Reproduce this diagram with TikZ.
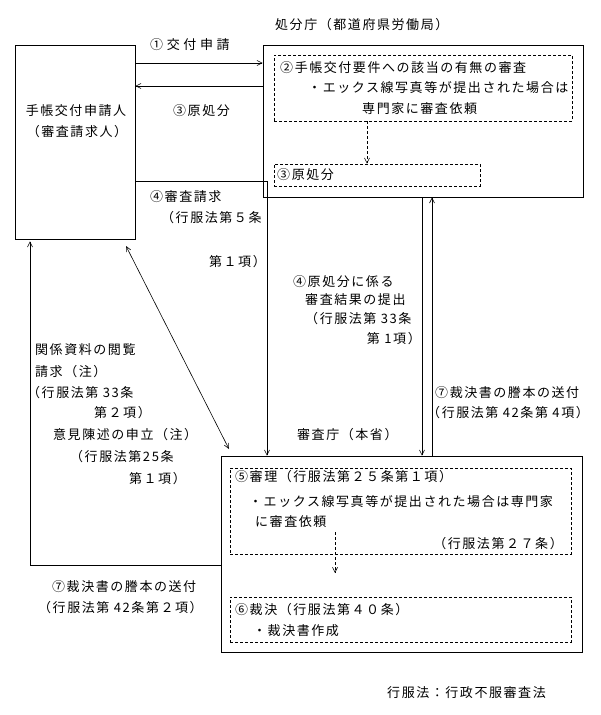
\documentclass[tikz,border=0pt]{standalone}
\usepackage{fontspec}
\setmainfont{Noto Sans CJK JP}[LetterSpace=12]
\usetikzlibrary{arrows.meta,calc}
\begin{document}
\begin{tikzpicture}[x=1pt,y=-1pt,
  font=\fontsize{13}{15}\selectfont,
  box/.style={draw, line width=0.8pt, inner sep=0pt},
  dbox/.style={draw, line width=0.7pt, dash pattern=on 3pt off 2pt, inner sep=0pt},
  txt/.style={inner sep=0pt, anchor=west},
  txtr/.style={inner sep=0pt, anchor=east},
  txtc/.style={inner sep=0pt, anchor=center},
  wide/.style={font=\fontsize{13}{15}\selectfont\addfontfeature{LetterSpace=28}},
  conn/.style={line width=0.6pt},
  arr/.style={conn, -{Straight Barb[length=5pt,width=5pt]}},
  darr/.style={conn, {Straight Barb[length=5pt,width=5pt]}-{Straight Barb[length=5pt,width=5pt]}},
  dashconn/.style={conn, dash pattern=on 3pt off 2pt, -{Straight Barb[length=5pt,width=5pt]}}
]
\useasboundingbox (0,0) rectangle (600,715);

% boxes
\node[box, minimum width=120pt, minimum height=194pt] (app) at (75,142) {};
\node[box, minimum width=320pt, minimum height=152pt] (pref) at (423,121) {};
\node[dbox, minimum width=298pt, minimum height=66pt] (d2) at (423,88) {};
\node[dbox, minimum width=206pt, minimum height=22pt] (d3) at (377,175) {};
\node[box, minimum width=361pt, minimum height=196pt] (rev) at (401.5,554) {};
\node[dbox, minimum width=341pt, minimum height=86pt] (d5) at (400.5,511) {};
\node[dbox, minimum width=341pt, minimum height=45pt] (d6) at (400.5,619.5) {};

% texts in applicant box
\node[txtc] (tapp1) at (76,111) {手帳交付申請人};
\node[txtc] (tapp2) at (77,132) {（審査請求人）};

% prefecture agency
\node[txt] (tpref) at (275,25) {処分庁（都道府県労働局）};
\node[txt] (t2a) at (280,68) {②手帳交付要件への該当の有無の審査};
\node[txt] (t2b) at (308,88) {・エックス線写真等が提出された場合は};
\node[txt] (t2c) at (362,109) {専門家に審査依頼};
\node[txt] (t3) at (277,175) {③原処分};

% top connectors labels
\node[txt, wide] (l1) at (150,45) {①交付申請};
\node[txt] (l3) at (173,111) {③原処分};
\node[txt] (l4a) at (150,197) {④審査請求};
\node[txt] (l4b) at (161,218) {（行服法第５条};
\node[txtr] (l4c) at (266,262) {第１項）};

% middle labels
\node[txt] (m1) at (293,282) {④原処分に係る};
\node[txt] (m2) at (305,300) {審査結果の提出};
\node[txt] (m3) at (305,319) {（行服法第 33条};
\node[txtr] (m4) at (421,339) {第 1項）};
\node[txt] (m5) at (435,393) {⑦裁決書の謄本の送付};
\node[txt] (m6) at (427,413) {（行服法第 42条第 4項）};
\node[txt] (m7) at (297,435) {審査庁（本省）};

% left labels
\node[txt] (k1) at (35,350) {関係資料の閲覧};
\node[txt] (k2) at (35,372) {請求（注）};
\node[txt] (k3) at (27,393) {（行服法第 33条};
\node[txtr] (k4) at (151,413) {第２項）};
\node[txt] (k5) at (53,435) {意見陳述の申立（注）};
\node[txt] (k6) at (70,457) {（行服法第25条};
\node[txtr] (k7) at (186,479) {第１項）};
\node[txt] (k8) at (52,587) {⑦裁決書の謄本の送付};
\node[txt] (k9) at (38,608) {（行服法第 42条第２項）};

% review agency
\node[txt] (r1) at (235,477) {⑤審理（行服法第２５条第１項）};
\node[txt] (r2) at (249,502) {・エックス線写真等が提出された場合は専門家};
\node[txt] (r3) at (255,522) {に審査依頼};
\node[txtr] (r4) at (563,544) {（行服法第２７条）};
\node[txt] (r5) at (235,610) {⑥裁決（行服法第４０条）};
\node[txt] (r6) at (253,631) {・裁決書作成};

% footnote
\node[txt] (fn) at (387,693) {行服法：行政不服審査法};

% connectors
\draw[arr] (app.east |- 0,63) -- (pref.west |- 0,63);
\draw[arr] (pref.west |- 0,86) -- (app.east |- 0,86);
\draw[dashconn] (d2.south -| 367,0) -- (d3.north -| 367,0);
\draw[arr] (app.east |- 0,181) -| (rev.north -| 267,0);
\draw[arr] (pref.south -| 422,0) -- (rev.north -| 422,0);
\draw[arr] (rev.north -| 432,0) -- (pref.south -| 432,0);
\coordinate (dg1) at (126,246);
\coordinate (dg2) at (229,449);
\draw[darr] (dg1) -- (dg2);
\draw[arr, shorten >=2pt] (rev.west |- 0,565) -| (app.south -| 30,0);
\coordinate (da1) at (335,532);
\coordinate (da2) at (335,573);
\draw[dashconn] (da1) -- (da2);
\end{tikzpicture}
\end{document}
